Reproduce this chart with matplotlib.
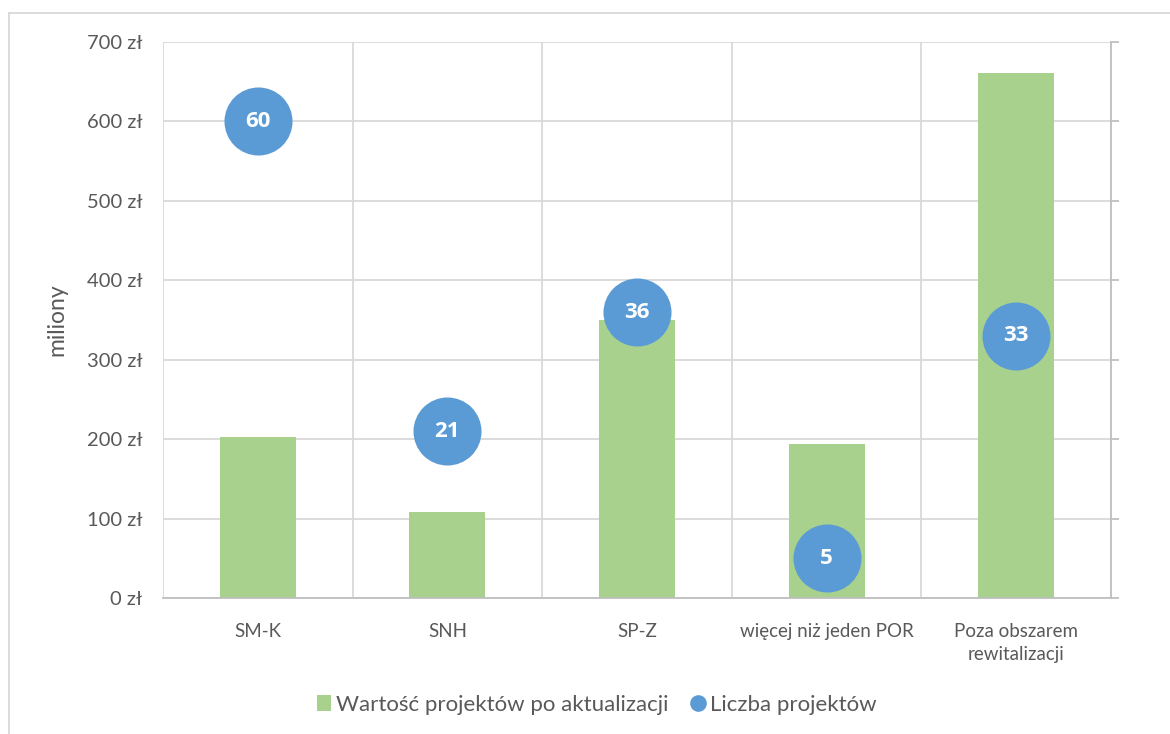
import matplotlib
matplotlib.use("Agg")
import matplotlib.pyplot as plt
from matplotlib.lines import Line2D
from matplotlib.patches import Patch
import numpy as np

categories = ["SM-K", "SNH", "SP-Z", "więcej niż jeden POR", "Poza obszarem\nrewitalizacji"]
values_mln = [203, 108, 350, 194, 661]
counts = [60, 21, 36, 5, 33]
yticks = [0, 100, 200, 300, 400, 500, 600, 700]

plt.rcParams['font.family'] = ['Lato', 'DejaVu Sans']
txt = '#595959'
grid = '#d9d9d9'
green = '#a9d18e'
blue = '#5b9bd5'

fig = plt.figure(figsize=(11.7, 7.34), dpi=100)
ax = fig.add_axes([163/1170, 1-598/734, (1111-163)/1170, (598-42)/734])

x = np.arange(len(categories))
ax.bar(x, values_mln, width=0.4, color=green, zorder=2)
ax.scatter(x, [c*10 for c in counts], s=2400, color=blue, zorder=3, linewidths=0)
for xi, c in zip(x, counts):
    ax.text(xi, c*10, str(c), ha='center', va='center', color='white',
            fontsize=16, fontweight='bold', family=['Open Sans', 'DejaVu Sans'],
            zorder=4)

ax.set_xlim(-0.5, len(categories)-0.5)
ax.set_ylim(0, 700)
ax.set_yticks(yticks)
ax.set_yticklabels([f"{v} zł" for v in yticks], fontsize=14.5, color=txt)
ax.set_xticks(x)
ax.set_xticklabels(categories, fontsize=13.5, color=txt, linespacing=1.45)
ax.set_xticks(np.arange(len(categories)+1)-0.5, minor=True)
ax.tick_params(axis='x', which='both', length=0, pad=18)
ax.tick_params(axis='y', length=0, pad=15)
ax.grid(axis='y', color=grid, linewidth=1.3, zorder=0)
ax.grid(axis='x', which='minor', color=grid, linewidth=1.3, zorder=0)
ax.grid(axis='x', which='major', visible=False)
for s in ['top', 'left']:
    ax.spines[s].set_visible(False)
ax.spines['bottom'].set_color('#bfbfbf')
ax.spines['bottom'].set_linewidth(1.3)
ax.spines['right'].set_color('#bfbfbf')
ax.spines['right'].set_linewidth(1.3)
ax.set_ylabel("miliony", fontsize=16.5, color=txt, labelpad=14)

# secondary axis tick marks on the right
ax2 = ax.twinx()
ax2.set_ylim(0, 700)
ax2.set_yticks(yticks)
ax2.set_yticklabels([])
ax2.tick_params(axis='y', length=6, color='#bfbfbf', width=1.3, direction='out')
for s in ['top', 'left', 'bottom', 'right']:
    ax2.spines[s].set_visible(False)

handles = [Patch(facecolor=green, edgecolor='none'),
           Line2D([0], [0], marker='o', color='none', markerfacecolor=blue,
                  markeredgecolor='none', markersize=12)]
leg = fig.legend(handles, ["Wartość projektów po aktualizacji", "Liczba projektów"],
                 loc='center', bbox_to_anchor=(597/1170, 1-705/734), ncol=2,
                 frameon=False, fontsize=16, handlelength=0.6, handletextpad=0.25,
                 columnspacing=1.0, labelcolor=txt)

# outer chart border (partially visible)
fig.add_artist(Line2D([9/1170, 9/1170], [0, 1-13/734], color='#d9d9d9', lw=1.3,
                      transform=fig.transFigure))
fig.add_artist(Line2D([9/1170, 1], [1-13/734, 1-13/734], color='#d9d9d9', lw=1.3,
                      transform=fig.transFigure))

fig.savefig("out.png", dpi=100)
